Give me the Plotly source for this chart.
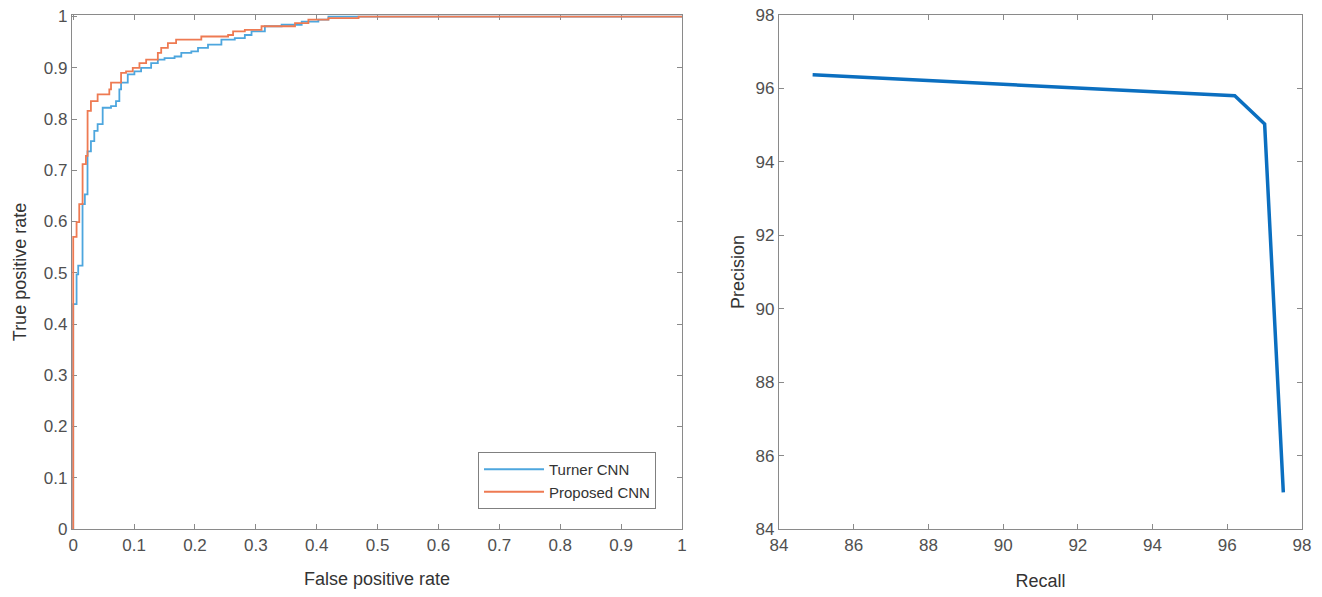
import plotly.graph_objects as go

# ROC data (corner points of step curves)
turner_fpr = [0, 0, 0.0055, 0.0082, 0.0153, 0.0191, 0.0235, 0.0291, 0.0346, 0.0401, 0.0484,
              0.0621, 0.0703, 0.0758, 0.0786, 0.0896, 0.1005, 0.1115, 0.128, 0.139, 0.15,
              0.1665, 0.1775, 0.194, 0.205, 0.2214, 0.2434, 0.2654, 0.2819, 0.2929, 0.3148,
              0.3423, 0.3753, 0.4027, 0.4192, 1.0]
turner_tpr = [0, 0.439, 0.497, 0.514, 0.634, 0.653, 0.737, 0.757, 0.777, 0.790, 0.822,
              0.825, 0.835, 0.858, 0.871, 0.887, 0.893, 0.900, 0.909, 0.916, 0.919,
              0.922, 0.929, 0.932, 0.939, 0.945, 0.955, 0.958, 0.964, 0.971, 0.981,
              0.984, 0.990, 0.994, 1.0, 1.0]

proposed_fpr = [0, 0, 0.0055, 0.0099, 0.0154, 0.0209, 0.0236, 0.0291, 0.0401, 0.0593, 0.0621,
                0.0786, 0.0868, 0.0978, 0.1088, 0.1198, 0.139, 0.1445, 0.1555, 0.169, 0.2104,
                0.2544, 0.2626, 0.2819, 0.3093, 0.3643, 0.3863, 0.4192, 0.4687, 1.0]
proposed_tpr = [0, 0.570, 0.599, 0.634, 0.712, 0.728, 0.816, 0.835, 0.848, 0.858, 0.871,
                0.890, 0.893, 0.900, 0.909, 0.916, 0.929, 0.939, 0.948, 0.955, 0.961,
                0.964, 0.971, 0.974, 0.981, 0.987, 0.994, 0.997, 1.0, 1.0]

# Precision-recall data
recall = [84.9, 96.2, 97.0, 97.5]
precision = [96.37, 95.8, 95.03, 85.0]

roc_ticks = [0, 0.1, 0.2, 0.3, 0.4, 0.5, 0.6, 0.7, 0.8, 0.9, 1]
roc_ticktext = ["0", "0.1", "0.2", "0.3", "0.4", "0.5", "0.6", "0.7", "0.8", "0.9", "1"]
pr_ticks = [84, 86, 88, 90, 92, 94, 96, 98]

W, H = 1322, 597
fig = go.Figure()

fig.add_trace(go.Scatter(x=turner_fpr, y=turner_tpr, mode="lines", name="Turner CNN",
                         line=dict(color="#4da6de", width=1.8, shape="hv"),
                         xaxis="x", yaxis="y"))
fig.add_trace(go.Scatter(x=proposed_fpr, y=proposed_tpr, mode="lines", name="Proposed CNN",
                         line=dict(color="#ee7a52", width=1.8, shape="hv"),
                         xaxis="x", yaxis="y"))
fig.add_trace(go.Scatter(x=recall, y=precision, mode="lines", showlegend=False,
                         line=dict(color="#0b6fc0", width=3.5),
                         xaxis="x2", yaxis="y2"))

font = dict(family="Liberation Sans, Arial, sans-serif", size=17, color="#505050")
axcommon = dict(showline=True, linecolor="#8a8a8a", linewidth=1.3, mirror="ticks",
                ticks="inside", ticklen=5, tickcolor="#8a8a8a", showgrid=False,
                zeroline=False, tickfont=font, automargin=False, layer="below traces")

ybot = (H - 529) / H
ytop = (H - 15) / H
tfont = dict(family="Liberation Sans, Arial, sans-serif", size=18, color="#333")

fig.update_layout(
    width=W, height=H,
    margin=dict(l=0, r=0, t=0, b=0),
    paper_bgcolor="white", plot_bgcolor="white",
    font=font,
    xaxis=dict(domain=[72 / W, 682 / W], range=[-0.002, 1], tickvals=roc_ticks, ticktext=roc_ticktext,
               title=dict(text="False positive rate", font=tfont, standoff=18),
               anchor="y", **axcommon),
    yaxis=dict(domain=[ybot, ytop], range=[0, 1.003], tickvals=roc_ticks, ticktext=roc_ticktext,
               title=dict(text="True positive rate", font=tfont, standoff=12),
               anchor="x", **axcommon),
    xaxis2=dict(domain=[779 / W, 1302 / W], range=[84, 98], tickvals=pr_ticks,
                title=dict(text="Recall", font=tfont, standoff=20),
                anchor="y2", **axcommon),
    yaxis2=dict(domain=[ybot, ytop], range=[84, 98], tickvals=pr_ticks,
                title=dict(text="Precision", font=tfont, standoff=6),
                anchor="x2", **axcommon),
    legend=dict(x=478 / W, y=(H - 452) / H, xanchor="left", yanchor="top",
                bordercolor="#808080", borderwidth=1, bgcolor="white",
                font=dict(family="Liberation Sans, Arial, sans-serif", size=15, color="#333"),
                itemwidth=60, tracegroupgap=2),
)

fig.write_html("out.html", config={"displayModeBar": False},
               post_script="document.body.style.margin='0';document.body.style.overflow='hidden';")
